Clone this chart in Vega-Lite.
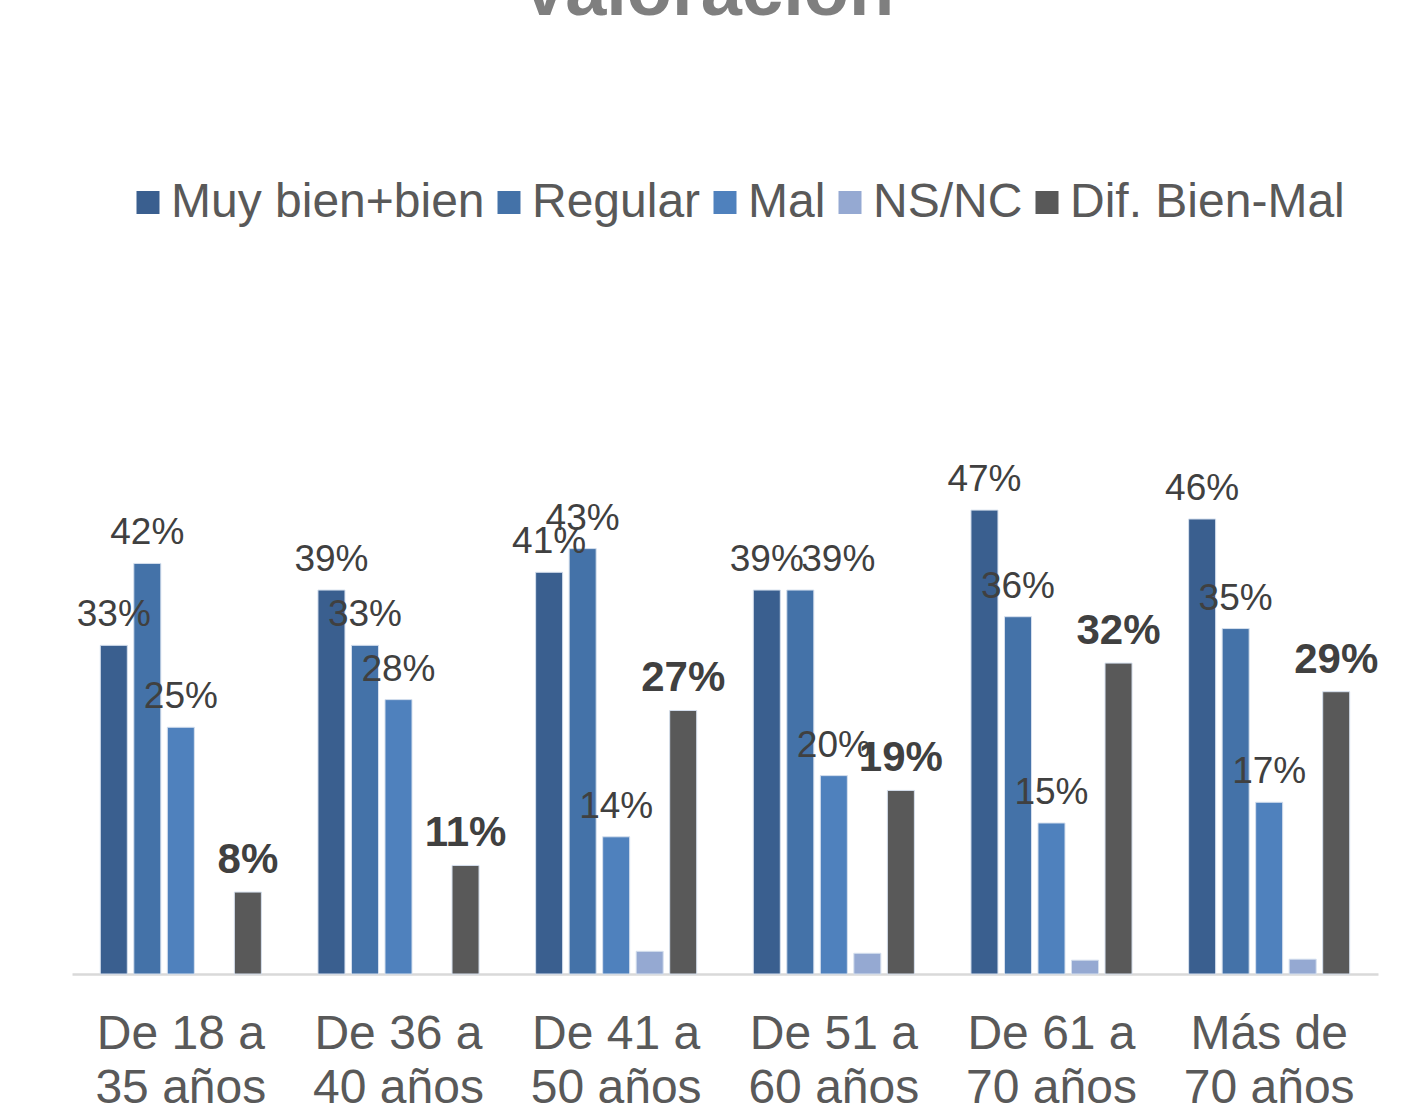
{
  "$schema": "https://vega.github.io/schema/vega-lite/v6.json",
  "autosize": {"type": "none"},
  "width": 1306,
  "height": 493.5,
  "padding": {"left": 72, "top": 480.5, "right": 36, "bottom": 146},
  "background": "white",
  "title": {
    "text": "Valoración",
    "anchor": "middle",
    "font": "Liberation Sans",
    "fontSize": 74,
    "fontWeight": "bold",
    "color": "#7F7F7F",
    "baseline": "alphabetic",
    "offset": 90,
    "dx": -18
  },
  "config": {
    "view": {"stroke": null},
    "font": "Liberation Sans"
  },
  "data": {
    "values": [
      {"grupo": "De 18 a|35 años", "serie": "Muy bien+bien", "valor": 0.333},
      {"grupo": "De 18 a|35 años", "serie": "Regular", "valor": 0.416},
      {"grupo": "De 18 a|35 años", "serie": "Mal", "valor": 0.25},
      {"grupo": "De 18 a|35 años", "serie": "Dif. Bien-Mal", "valor": 0.083},
      {"grupo": "De 36 a|40 años", "serie": "Muy bien+bien", "valor": 0.389},
      {"grupo": "De 36 a|40 años", "serie": "Regular", "valor": 0.333},
      {"grupo": "De 36 a|40 años", "serie": "Mal", "valor": 0.278},
      {"grupo": "De 36 a|40 años", "serie": "Dif. Bien-Mal", "valor": 0.11},
      {"grupo": "De 41 a|50 años", "serie": "Muy bien+bien", "valor": 0.407},
      {"grupo": "De 41 a|50 años", "serie": "Regular", "valor": 0.431},
      {"grupo": "De 41 a|50 años", "serie": "Mal", "valor": 0.139},
      {"grupo": "De 41 a|50 años", "serie": "NS/NC", "valor": 0.023},
      {"grupo": "De 41 a|50 años", "serie": "Dif. Bien-Mal", "valor": 0.267},
      {"grupo": "De 51 a|60 años", "serie": "Muy bien+bien", "valor": 0.389},
      {"grupo": "De 51 a|60 años", "serie": "Regular", "valor": 0.389},
      {"grupo": "De 51 a|60 años", "serie": "Mal", "valor": 0.201},
      {"grupo": "De 51 a|60 años", "serie": "NS/NC", "valor": 0.021},
      {"grupo": "De 51 a|60 años", "serie": "Dif. Bien-Mal", "valor": 0.186},
      {"grupo": "De 61 a|70 años", "serie": "Muy bien+bien", "valor": 0.47},
      {"grupo": "De 61 a|70 años", "serie": "Regular", "valor": 0.362},
      {"grupo": "De 61 a|70 años", "serie": "Mal", "valor": 0.153},
      {"grupo": "De 61 a|70 años", "serie": "NS/NC", "valor": 0.014},
      {"grupo": "De 61 a|70 años", "serie": "Dif. Bien-Mal", "valor": 0.315},
      {"grupo": "Más de|70 años", "serie": "Muy bien+bien", "valor": 0.461},
      {"grupo": "Más de|70 años", "serie": "Regular", "valor": 0.35},
      {"grupo": "Más de|70 años", "serie": "Mal", "valor": 0.174},
      {"grupo": "Más de|70 años", "serie": "NS/NC", "valor": 0.015},
      {"grupo": "Más de|70 años", "serie": "Dif. Bien-Mal", "valor": 0.286}
    ]
  },
  "encoding": {
    "x": {
      "field": "grupo",
      "type": "nominal",
      "sort": null,
      "scale": {"paddingInner": 0.26, "paddingOuter": 0.13},
      "axis": {
        "title": null,
        "domainColor": "#D9D9D9",
        "domainWidth": 2.5,
        "ticks": false,
        "labelAngle": 0,
        "labelExpr": "split(datum.label, '|')",
        "labelFont": "Liberation Sans",
        "labelFontSize": 48,
        "labelColor": "#595959",
        "labelBaseline": "top",
        "labelPadding": 36,
        "labelLineHeight": 54
      }
    },
    "xOffset": {
      "field": "serie",
      "type": "nominal",
      "sort": ["Muy bien+bien", "Regular", "Mal", "NS/NC", "Dif. Bien-Mal"],
      "scale": {"paddingInner": 0.194, "paddingOuter": 0}
    },
    "y": {
      "field": "valor",
      "type": "quantitative",
      "scale": {"domain": [0, 0.5], "nice": false},
      "axis": null
    }
  },
  "layer": [
    {
      "mark": {"type": "bar", "stroke": "#D6E0EE", "strokeWidth": 1},
      "encoding": {
        "color": {
          "field": "serie",
          "type": "nominal",
          "sort": ["Muy bien+bien", "Regular", "Mal", "NS/NC", "Dif. Bien-Mal"],
          "scale": {
            "domain": ["Muy bien+bien", "Regular", "Mal", "NS/NC", "Dif. Bien-Mal"],
            "range": ["#3A5F8F", "#4472A8", "#4F81BD", "#95A9D2", "#595959"]
          },
          "legend": {
            "title": null,
            "orient": "none",
            "direction": "horizontal",
            "columns": 5,
            "legendX": 52,
            "legendY": -302,
            "symbolType": "square",
            "symbolSize": 529,
            "symbolStrokeWidth": 0,
            "labelFont": "Liberation Sans",
            "labelFontSize": 48,
            "labelColor": "#595959",
            "labelOffset": -1,
            "columnPadding": 0,
            "labelLimit": 500
          }
        }
      }
    },
    {
      "transform": [{"filter": "datum.serie != 'NS/NC' && datum.serie != 'Dif. Bien-Mal' && !(datum.grupo == 'De 51 a|60 años' && datum.serie == 'Regular')"}],
      "mark": {"type": "text", "baseline": "alphabetic", "dy": -19, "fontSize": 37, "color": "#404040", "font": "Liberation Sans"},
      "encoding": {
        "text": {"field": "valor", "type": "quantitative", "format": ".0%"}
      }
    },
    {
      "transform": [{"filter": "datum.grupo == 'De 51 a|60 años' && datum.serie == 'Regular'"}],
      "mark": {"type": "text", "baseline": "alphabetic", "dy": -19, "dx": 38, "fontSize": 37, "color": "#404040", "font": "Liberation Sans"},
      "encoding": {
        "text": {"field": "valor", "type": "quantitative", "format": ".0%"}
      }
    },
    {
      "transform": [{"filter": "datum.serie == 'Dif. Bien-Mal'"}],
      "mark": {"type": "text", "baseline": "alphabetic", "dy": -19, "fontSize": 42, "fontWeight": "bold", "color": "#404040", "font": "Liberation Sans"},
      "encoding": {
        "text": {"field": "valor", "type": "quantitative", "format": ".0%"}
      }
    }
  ]
}
